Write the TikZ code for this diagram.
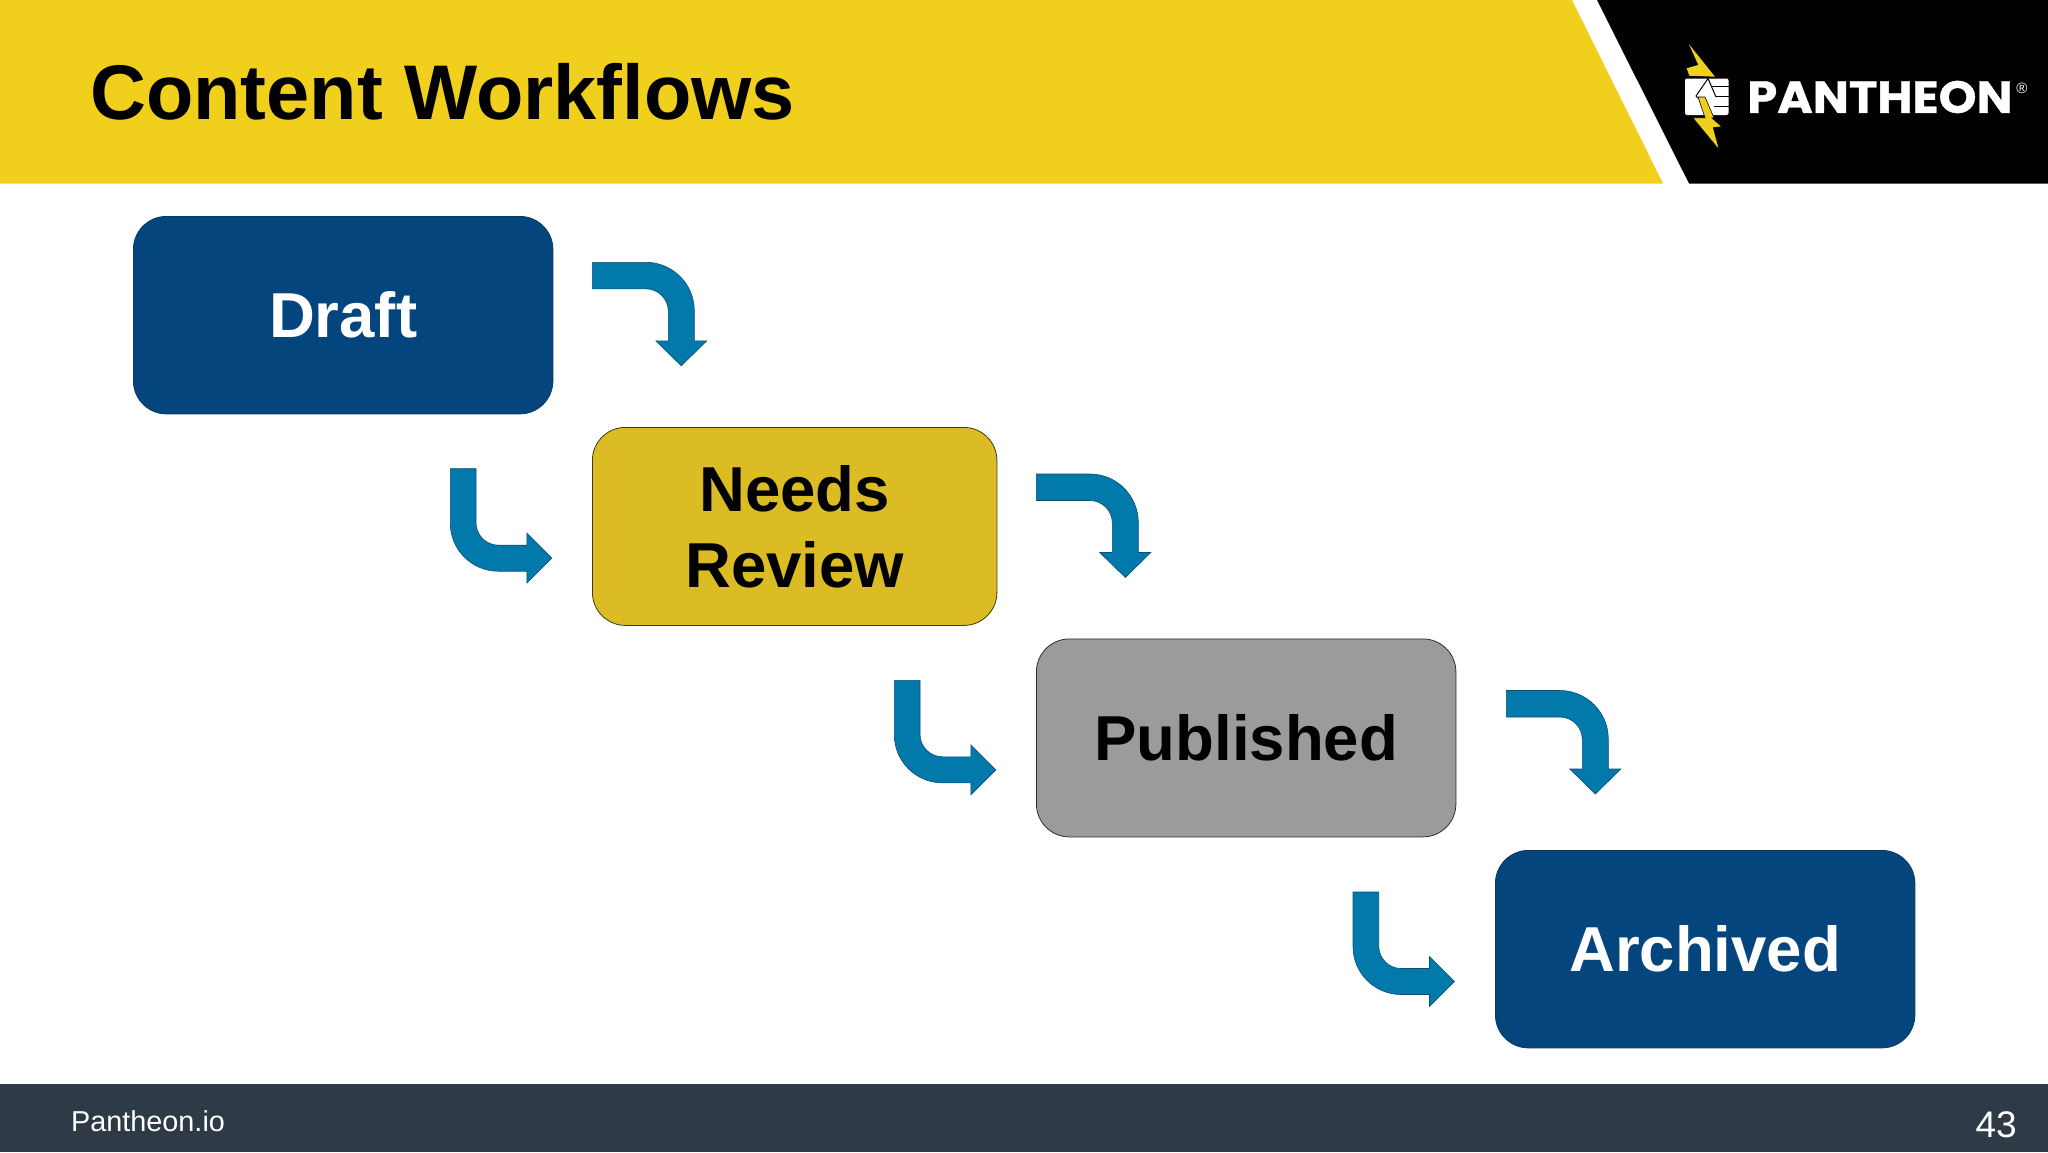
\documentclass[tikz,border=0pt]{standalone}
\usepackage{fontspec}
\setmainfont{Liberation Sans}
\newfontfamily\logofont[BoldFeatures={FakeBold=0.8,FakeStretch=1.07}]{Poppins}
\definecolor{bandyellow}{HTML}{F0D01C}
\definecolor{navy}{HTML}{03457C}
\definecolor{navyedge}{HTML}{0A3A60}
\definecolor{mustard}{HTML}{DCBC24}
\definecolor{midgray}{HTML}{9C9A9D}
\definecolor{teal}{HTML}{0279AB}
\definecolor{tealedge}{HTML}{0A4F73}
\definecolor{foot}{HTML}{2F3A47}
\tikzset{
  x=1pt,y=-1pt,
  statebox/.style={draw=#1,rounded corners=33pt,line width=0.8pt,inner sep=0pt,anchor=north west,align=center},
  boxtext/.style={font=\fontsize{63.5}{76}\selectfont\bfseries},
  blockarrow/.style={fill=teal,draw=tealedge,line width=0.6pt,line join=miter},
  pics/arrowdown/.style={code={
    \draw[blockarrow] (0,0) -- (53.5,0) arc[start angle=-90,end angle=0,radius=48.5] -- (102,78.5) -- (114.5,78.5) -- (89,103.5) -- (63.5,78.5) -- (76,78.5) -- (76,49) arc[start angle=0,end angle=-90,radius=22.5] -- (0,26.5) -- cycle;
  }},
  pics/arrowright/.style={code={
    \draw[blockarrow] (0,0) -- (25.7,0) -- (25.7,54) arc[start angle=180,end angle=90,radius=22.5] -- (76.5,76.5) -- (76.5,64.5) -- (101.5,89.5) -- (76.5,114.5) -- (76.5,102.5) -- (48,102.5) arc[start angle=90,end angle=180,radius=48] -- cycle;
  }},
}
\begin{document}
\begin{tikzpicture}
\useasboundingbox (0,0) rectangle (2048,1152);
\fill[white] (0,0) rectangle (2048,1152);
% header
\fill[bandyellow] (0,0) -- (1572,0) -- (1663,183.5) -- (0,183.5) -- cycle;
\fill[black] (1597,0) -- (2048,0) -- (2048,183.5) -- (1689,183.5) -- cycle;
\node[anchor=west,inner sep=0pt,font=\fontsize{77.5}{90}\selectfont\bfseries] (title) at (90,92) {Content Workflows};
% logo
\fill[bandyellow] (1689,44.3) -- (1715,76.7) -- (1689.3,75.7) -- (1686.7,68.3) -- (1698.3,65) -- cycle;
\fill[white,rounded corners=2pt] (1685,78.5) rectangle (1728.5,115);
\draw[black,line width=1pt] (1708,78.5) -- (1696,96) -- (1698,98) (1708,78.5) -- (1716,97);
\draw[black,line width=1pt] (1712,86) -- (1729,86) (1716,96) -- (1729,96) (1714,106) -- (1729,106);
\fill[bandyellow,draw=black,line width=0.6pt] (1698,97) -- (1705,97) -- (1714,118) -- (1712,118) -- (1721.7,126.7) -- (1713.3,127.7) -- (1719.3,150) -- (1692.7,117.7) -- (1705,117.7) -- cycle;
\node[anchor=west,inner sep=0pt,text=white,font=\logofont\fontsize{45}{54}\selectfont\bfseries] (logo) at (1747,97) {PANTHEON};
\node[anchor=center,inner sep=0pt,text=white,font=\fontsize{15}{18}\selectfont] (reg) at (2022,88) {®};
% boxes
\node[statebox=navyedge,fill=navy,minimum width=419.5pt,minimum height=197.5pt,text=white,boxtext] (draft) at (133,216) {Draft};
\node[statebox=black!70!mustard,fill=mustard,minimum width=404.5pt,minimum height=198pt,boxtext] (review) at (592,427) {Needs\\Review};
\node[statebox=black!70!midgray,fill=midgray,minimum width=419.5pt,minimum height=198pt,boxtext] (published) at (1036,638.5) {Published};
\node[statebox=navyedge,fill=navy,minimum width=419.5pt,minimum height=197.5pt,text=white,boxtext] (archived) at (1495,850) {Archived};
% arrows
\pic at (592.3,262.3) {arrowdown};
\pic at (1036.3,474) {arrowdown};
\pic at (1506.3,690.5) {arrowdown};
\pic at (450.3,468.7) {arrowright};
\pic at (894.3,680.3) {arrowright};
\pic at (1353,892) {arrowright};
% footer
\fill[foot] (0,1084) rectangle (2048,1152);
\node[anchor=west,inner sep=0pt,text=white,font=\fontsize{28.8}{34}\selectfont] (site) at (71,1121) {Pantheon.io};
\node[anchor=east,inner sep=0pt,text=white,font=\fontsize{37}{44}\selectfont] (page) at (2017,1125) {43};
\end{tikzpicture}
\end{document}
